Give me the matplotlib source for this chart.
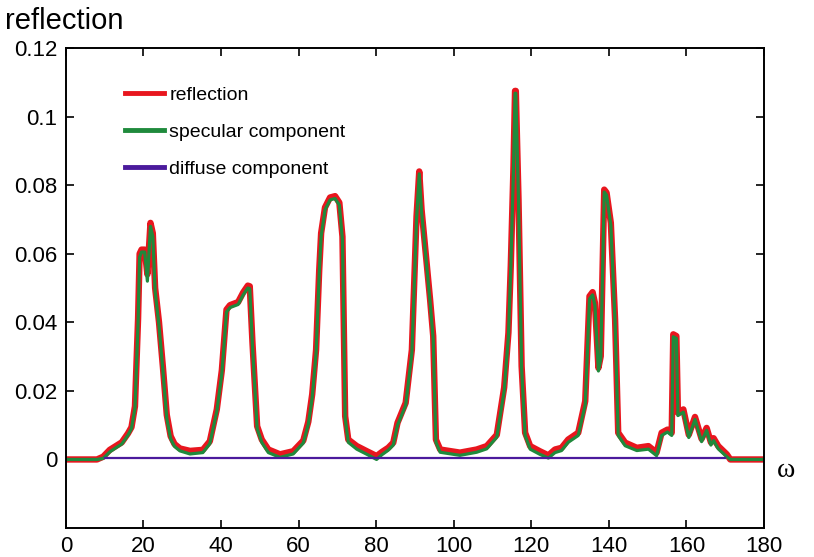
import matplotlib
matplotlib.use("Agg")
import matplotlib.pyplot as plt

plt.rcParams['font.family'] = ['Liberation Sans', 'DejaVu Sans']

# scattering angle omega (deg) and the three curves
omega = [0, 8, 9.6, 11.3, 13, 14.4, 16, 16.9, 17.8, 18.6, 19.0, 19.5, 20.3, 21.0,
         21.8, 22.4, 23.0, 24.0, 25.0, 26.0, 27.0, 28.0, 29.4, 32.0, 35.3, 37.1,
         38.9, 40.2, 41.4, 42.3, 44.4, 45.7, 46.9, 47.4, 48.1, 49.3, 50.5, 52.2,
         55.2, 58.6, 61.2, 62.5, 63.5, 64.5, 65.3, 65.8, 66.8, 68.1, 69.4, 70.5,
         71.3, 72.0, 72.8, 75.0, 77.6, 80.1, 81.5, 83.1, 84.4, 85.5, 87.6, 89.2,
         90.4, 91.1, 91.7, 93.9, 94.7, 95.4, 96.5, 101.6, 105.9, 108.5, 111.1,
         113.0, 114.1, 114.7, 115.4, 115.8, 116.0, 116.7, 117.5, 118.4, 119.7,
         122.2, 124.4, 126.1, 127.8, 129.5, 132.1, 133.9, 135.0, 135.8, 136.4,
         137.3, 137.9, 138.8, 139.4, 140.5, 141.6, 142.4, 144.2, 147.2, 150.2,
         152.3, 153.6, 155.1, 156.2, 156.6, 157.4, 157.8, 159.2, 160.6, 162.2,
         163.9, 165.2, 166.3, 167.0, 168.2, 170.4, 171.3, 180]

reflection = [0.0, 0.0, 0.0008, 0.0028, 0.004, 0.005, 0.0076, 0.0094, 0.0155, 0.041,
              0.060, 0.0612, 0.0612, 0.054, 0.069, 0.066, 0.050, 0.040, 0.027, 0.013,
              0.0068, 0.0045, 0.0032, 0.0025, 0.0028, 0.0053, 0.0146, 0.026, 0.0437,
              0.045, 0.0459, 0.0487, 0.0507, 0.0505, 0.034, 0.0097, 0.0058, 0.0029,
              0.0015, 0.0024, 0.0055, 0.011, 0.019, 0.032, 0.055, 0.066, 0.0735,
              0.0764, 0.0768, 0.0749, 0.065, 0.0126, 0.0058, 0.0039, 0.0024, 0.001,
              0.0022, 0.0034, 0.0049, 0.0107, 0.0165, 0.032, 0.0709, 0.084, 0.0729,
              0.0466, 0.036, 0.0058, 0.0029, 0.002, 0.0029, 0.0039, 0.0072, 0.021,
              0.037, 0.0564, 0.0855, 0.1075, 0.1075, 0.0758, 0.0272, 0.0078, 0.0039,
              0.0024, 0.0012, 0.0029, 0.0034, 0.0058, 0.0078, 0.017, 0.0476, 0.0488,
              0.0457, 0.0267, 0.0301, 0.0787, 0.0778, 0.069, 0.0408, 0.0078, 0.0049,
              0.0034, 0.0039, 0.002, 0.0078, 0.0087, 0.0078, 0.0365, 0.036, 0.0136,
              0.0146, 0.0072, 0.0124, 0.006, 0.0092, 0.005, 0.0062, 0.0039, 0.0015,
              0.0, 0.0]

specular = [0.0, 0.0, 0.0003, 0.0022, 0.0035, 0.0045, 0.0071, 0.009, 0.015, 0.040,
            0.059, 0.0605, 0.0605, 0.052, 0.068, 0.065, 0.049, 0.039, 0.026, 0.012,
            0.006, 0.0038, 0.0025, 0.0016, 0.002, 0.0046, 0.014, 0.025, 0.043,
            0.0443, 0.0452, 0.048, 0.050, 0.0498, 0.033, 0.009, 0.005, 0.002,
            0.0006, 0.0016, 0.0048, 0.0103, 0.018, 0.031, 0.054, 0.065, 0.0728,
            0.0757, 0.0761, 0.0742, 0.064, 0.012, 0.005, 0.003, 0.0015, 0.0,
            0.0014, 0.0027, 0.0042, 0.010, 0.0158, 0.031, 0.070, 0.0833, 0.0722,
            0.0459, 0.035, 0.005, 0.0021, 0.0012, 0.0021, 0.0031, 0.0065, 0.020,
            0.036, 0.0557, 0.0848, 0.1068, 0.1068, 0.0751, 0.0265, 0.007, 0.003,
            0.0015, 0.0004, 0.002, 0.0026, 0.005, 0.007, 0.016, 0.0468, 0.048,
            0.0449, 0.0258, 0.0293, 0.078, 0.0771, 0.0683, 0.040, 0.007, 0.004,
            0.0026, 0.003, 0.0011, 0.007, 0.008, 0.007, 0.0358, 0.0353, 0.0128,
            0.0138, 0.0064, 0.0117, 0.0052, 0.0085, 0.0042, 0.0055, 0.0031, 0.0008,
            0.0, 0.0]

diffuse_omega = [10, 170]
diffuse = [0.0003, 0.0003]

xticks = [0, 20, 40, 60, 80, 100, 120, 140, 160, 180]
yticks = [0, 0.02, 0.04, 0.06, 0.08, 0.1, 0.12]
ytick_labels = ['0', '0.02', '0.04', '0.06', '0.08', '0.1', '0.12']

fig = plt.figure(figsize=(8.14, 5.57), dpi=100)
ax = fig.add_axes([0.081, 0.052, 0.8576, 0.8618])

ax.plot(omega, reflection, color='#e8161e', linewidth=4.6, label='reflection')
ax.plot(omega, specular, color='#1f8a3c', linewidth=2.3, label='specular component')
ax.plot(diffuse_omega, diffuse, color='#4b1a9c', linewidth=1.6, label='diffuse component')

ax.set_xlim(0, 180)
ax.set_ylim(-0.02, 0.12)
ax.set_xticks(xticks)
ax.set_yticks(yticks)
ax.set_yticklabels(ytick_labels)
ax.tick_params(direction='in', length=6, width=1.2, labelsize=16,
               top=True, right=True, pad=6)
for s in ax.spines.values():
    s.set_linewidth(1.4)

leg = ax.legend(loc='upper left', bbox_to_anchor=(0.084, 0.92), frameon=False,
                fontsize=14, handlelength=2.05, handletextpad=0.25,
                labelspacing=1.0, borderpad=0, borderaxespad=0)
for line in leg.get_lines():
    line.set_linewidth(3.5)

fig.text(0.006, 0.962, 'reflection', fontsize=21, ha='left', va='center')
fig.text(0.965, 0.155, '\u03c9', fontsize=20, ha='center', va='center',
         family=['Liberation Serif', 'DejaVu Serif'])

fig.savefig('out.png', dpi=100)
